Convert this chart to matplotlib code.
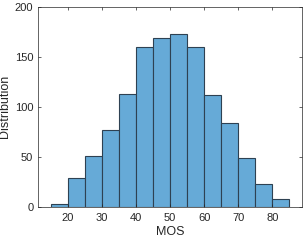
import matplotlib.pyplot as plt
import numpy as np

# bin edges and counts
bin_edges = np.arange(15, 90, 5)
counts = [3, 29, 51, 77, 113, 160, 169, 173, 160, 112, 84, 49, 23, 8]
x_ticks = [20, 30, 40, 50, 60, 70, 80]
y_ticks = [0, 50, 100, 150, 200]

plt.rcParams['font.family'] = ['Liberation Sans', 'DejaVu Sans']

fig = plt.figure(figsize=(3.08, 2.46), dpi=100)
ax = fig.add_axes([0.124, 0.159, 0.856, 0.814])

ax.bar(bin_edges[:-1], counts, width=np.diff(bin_edges), align='edge',
       color='#66aad7', edgecolor='#2e4152', linewidth=0.8)

ax.set_xlim(11.3, 88.7)
ax.set_ylim(0, 200)
ax.set_xticks(x_ticks)
ax.set_yticks(y_ticks)
ax.tick_params(direction='in', top=True, right=True, labelsize=8,
               length=2.5, width=0.5, colors='#262626')
ax.tick_params(axis='x', pad=4.5)
ax.tick_params(axis='y', pad=3.5)
for s in ax.spines.values():
    s.set_linewidth(0.5)
    s.set_color('#262626')

ax.set_xlabel('MOS', fontsize=9, color='#262626', labelpad=2)
ax.set_ylabel('Distribution', fontsize=9, color='#262626', labelpad=3)

plt.savefig('out.png', dpi=100)
